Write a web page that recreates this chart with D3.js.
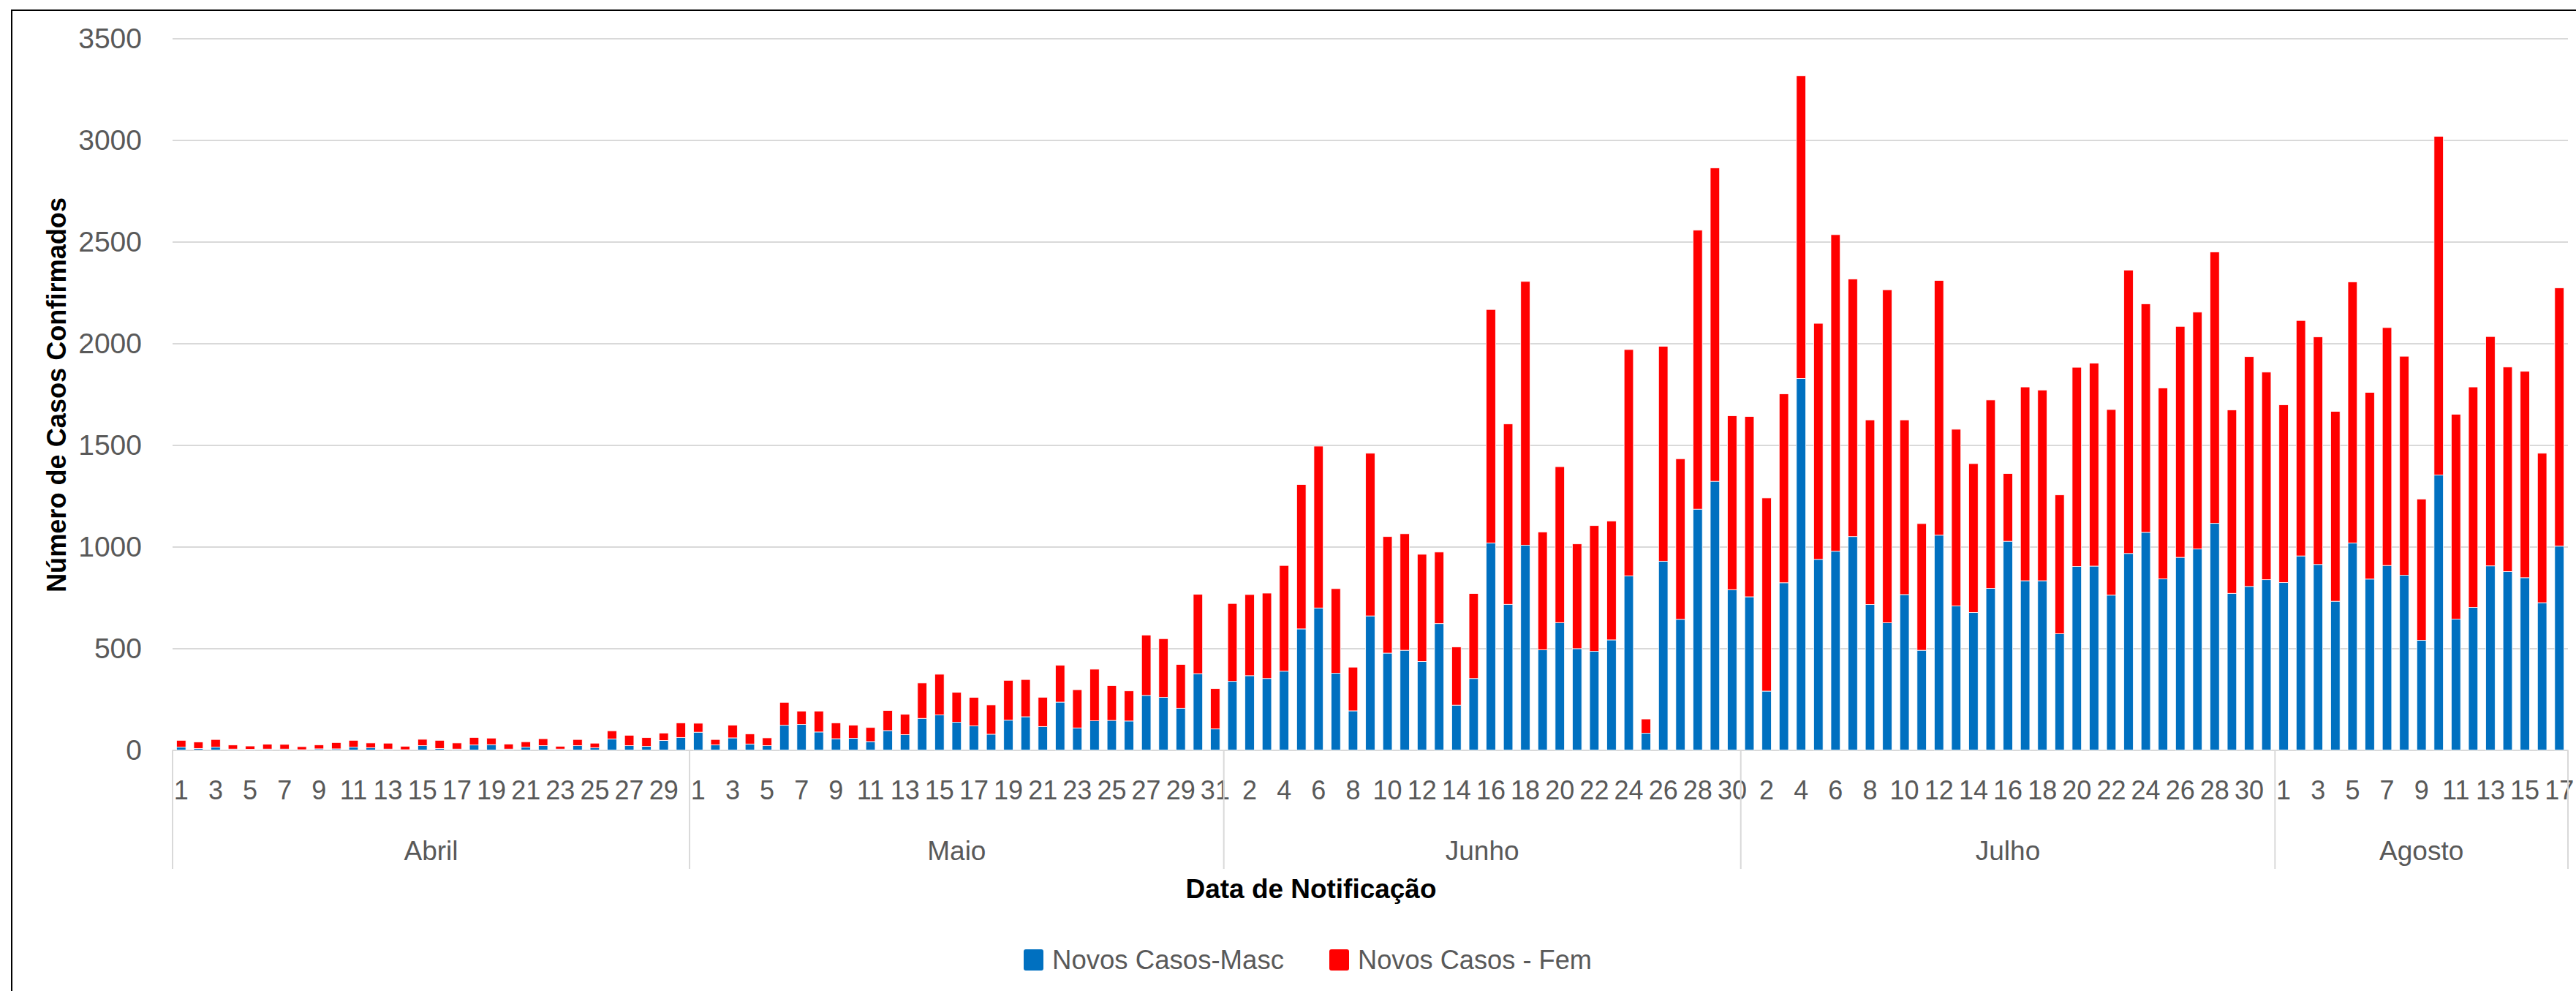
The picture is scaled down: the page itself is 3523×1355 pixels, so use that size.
<!DOCTYPE html>
<html>
<head>
<meta charset="utf-8">
<script src="https://cdn.jsdelivr.net/npm/d3@7"></script>
<style>
  html, body { margin: 0; padding: 0; background: #ffffff; }
  svg { display: block; }
</style>
</head>
<body>
<script>
// ---------- DATA ----------
const months = ["Abril", "Maio", "Junho", "Julho", "Agosto"];

const mascAbril = [15, 8, 15, 5, 4, 5, 5, 2, 6, 6, 15, 12, 5, 2, 22, 8, 5, 25, 27, 5, 15, 22, 5, 22, 12, 55, 22, 18, 47, 62];
const femAbril  = [33, 32, 37, 20, 16, 24, 23, 15, 20, 31, 33, 23, 29, 17, 31, 40, 30, 37, 32, 25, 26, 34, 14, 30, 22, 40, 51, 43, 37, 72];

const mascMaio = [88, 26, 60, 30, 22, 122, 126, 89, 56, 58, 42, 96, 76, 156, 173, 137, 119, 78, 147, 164, 116, 236, 109, 144, 146, 143, 269, 259, 206, 376, 104];
const femMaio  = [44, 26, 63, 50, 38, 113, 66, 103, 78, 65, 69, 99, 100, 174, 200, 147, 140, 144, 196, 183, 144, 181, 188, 254, 171, 148, 297, 289, 215, 390, 198];

const mascJunho = [338, 366, 352, 388, 596, 699, 378, 193, 660, 477, 491, 436, 622, 221, 352, 1019, 717, 1008, 493, 627, 499, 486, 542, 857, 83, 929, 643, 1185, 1322, 789];
const femJunho  = [383, 399, 420, 520, 710, 796, 416, 215, 800, 573, 573, 527, 352, 286, 418, 1148, 887, 1297, 580, 767, 515, 618, 585, 1113, 70, 1057, 790, 1372, 1541, 855];

const mascJulho = [754, 290, 823, 1828, 938, 978, 1050, 716, 626, 765, 491, 1057, 709, 677, 795, 1027, 833, 833, 572, 903, 905, 762, 967, 1071, 842, 948, 989, 1115, 771, 805, 838];
const femJulho  = [887, 950, 929, 1488, 1161, 1557, 1267, 908, 1638, 859, 623, 1253, 869, 732, 927, 333, 953, 938, 683, 980, 998, 913, 1394, 1124, 939, 1136, 1165, 1335, 902, 1130, 1021];

const mascAgosto = [824, 955, 913, 732, 1019, 841, 908, 860, 540, 1353, 644, 702, 906, 878, 848, 725, 1003];
const femAgosto  = [874, 1158, 1119, 934, 1284, 918, 1170, 1077, 695, 1666, 1008, 1084, 1128, 1006, 1015, 735, 1270];

const yTicks = [0, 500, 1000, 1500, 2000, 2500, 3000, 3500];
const seriesNames = ["Novos Casos-Masc", "Novos Casos - Fem"];
const seriesColors = ["#0070C0", "#FF0000"];

// ---------- BUILD TABLE ----------
const mascByMonth = [mascAbril, mascMaio, mascJunho, mascJulho, mascAgosto];
const femByMonth  = [femAbril, femMaio, femJunho, femJulho, femAgosto];
const rows = [];
const monthStarts = [];
mascByMonth.forEach((arr, m) => {
  monthStarts.push(rows.length);
  arr.forEach((v, i) => {
    rows.push({ idx: rows.length, month: months[m], day: i + 1, masc: v, fem: femByMonth[m][i] });
  });
});
monthStarts.push(rows.length);

// ---------- LAYOUT ----------
const W = 3523, H = 1355;
const plot = { left: 236, right: 3512, top: 52.6, bottom: 1025.6 };
const FONT = "'Liberation Sans', Arial, sans-serif";
const GRAY = "#595959";
const GRID = "#d9d9d9";

const svg = d3.select("body").append("svg")
  .attr("width", W).attr("height", H)
  .attr("viewBox", `0 0 ${W} ${H}`);

svg.append("rect").attr("x", 0).attr("y", 0).attr("width", W).attr("height", H).attr("fill", "#fff");
// chart frame
svg.append("rect").attr("x", 16).attr("y", 14).attr("width", W + 20).attr("height", H + 20)
  .attr("fill", "none").attr("stroke", "#000").attr("stroke-width", 2);

const x = d3.scaleBand()
  .domain(rows.map(d => d.idx))
  .range([plot.left, plot.right])
  .paddingInner(0.46).paddingOuter(0.23);

const y = d3.scaleLinear().domain([0, 3500]).range([plot.bottom, plot.top]);

// gridlines + y labels
const yAxis = svg.append("g")
  .attr("transform", `translate(${plot.left},0)`)
  .call(d3.axisLeft(y).tickValues(yTicks).tickSize(-(plot.right - plot.left)).tickPadding(42).tickFormat(d3.format("d")));
yAxis.select(".domain").remove();
yAxis.selectAll(".tick line").attr("stroke", GRID).attr("stroke-width", 2);
yAxis.selectAll(".tick text").attr("fill", GRAY).style("font-family", FONT).style("font-size", "39px");

// bars
const stack = d3.stack().keys(["masc", "fem"]);
const stacked = stack(rows);
svg.append("g").selectAll("g").data(stacked).join("g")
  .attr("fill", (d, i) => seriesColors[i])
  .selectAll("rect").data(d => d).join("rect")
  .attr("x", d => x(d.data.idx))
  .attr("width", x.bandwidth())
  .attr("y", d => y(d[1]))
  .attr("height", d => Math.max(0, y(d[0]) - y(d[1])))
  .attr("stroke", "#ffffff").attr("stroke-width", 0.8);

// x axis day labels (every other category)
const xAxis = svg.append("g")
  .attr("transform", `translate(0,${plot.bottom})`)
  .call(d3.axisBottom(x)
    .tickValues(rows.filter(d => d.idx % 2 === 0).map(d => d.idx))
    .tickSize(0).tickPadding(42)
    .tickFormat(i => String(rows[i].day)));
xAxis.select(".domain").remove();
xAxis.selectAll(".tick text").attr("fill", GRAY).style("font-family", FONT).style("font-size", "36px");

// month dividers and labels
const step = x.step();
const boundary = i => (i < rows.length ? x(i) - x.paddingOuter() * step : plot.right);
svg.append("g").selectAll("line").data(monthStarts).join("line")
  .attr("x1", d => boundary(d)).attr("x2", d => boundary(d))
  .attr("y1", plot.bottom).attr("y2", 1188)
  .attr("stroke", GRID).attr("stroke-width", 2);

svg.append("g").selectAll("text").data(months).join("text")
  .attr("x", (d, i) => (boundary(monthStarts[i]) + boundary(monthStarts[i + 1])) / 2)
  .attr("y", 1176)
  .attr("text-anchor", "middle")
  .attr("fill", GRAY).style("font-family", FONT).style("font-size", "37px")
  .text(d => d);

// axis titles
svg.append("text")
  .attr("transform", "translate(90,540) rotate(-90)")
  .attr("text-anchor", "middle")
  .attr("textLength", 540).attr("lengthAdjust", "spacingAndGlyphs")
  .attr("fill", "#000").style("font-family", FONT).style("font-size", "36px").style("font-weight", "bold")
  .text("Número de Casos Confirmados");

svg.append("text")
  .attr("x", 1793).attr("y", 1228)
  .attr("text-anchor", "middle")
  .attr("textLength", 343).attr("lengthAdjust", "spacingAndGlyphs")
  .attr("fill", "#000").style("font-family", FONT).style("font-size", "36px").style("font-weight", "bold")
  .text("Data de Notificação");

// legend
const legendItems = [
  { name: seriesNames[0], color: seriesColors[0], sx: 1400, tx: 1439, tw: 317 },
  { name: seriesNames[1], color: seriesColors[1], sx: 1818, tx: 1857, tw: 320 }
];
const lg = svg.append("g").selectAll("g").data(legendItems).join("g");
lg.append("rect")
  .attr("x", d => d.sx).attr("y", 1298).attr("width", 27).attr("height", 29).attr("rx", 3)
  .attr("fill", d => d.color);
lg.append("text")
  .attr("x", d => d.tx).attr("y", 1325)
  .attr("textLength", d => d.tw).attr("lengthAdjust", "spacingAndGlyphs")
  .attr("fill", GRAY).style("font-family", FONT).style("font-size", "37px")
  .text(d => d.name);
</script>
</body>
</html>
